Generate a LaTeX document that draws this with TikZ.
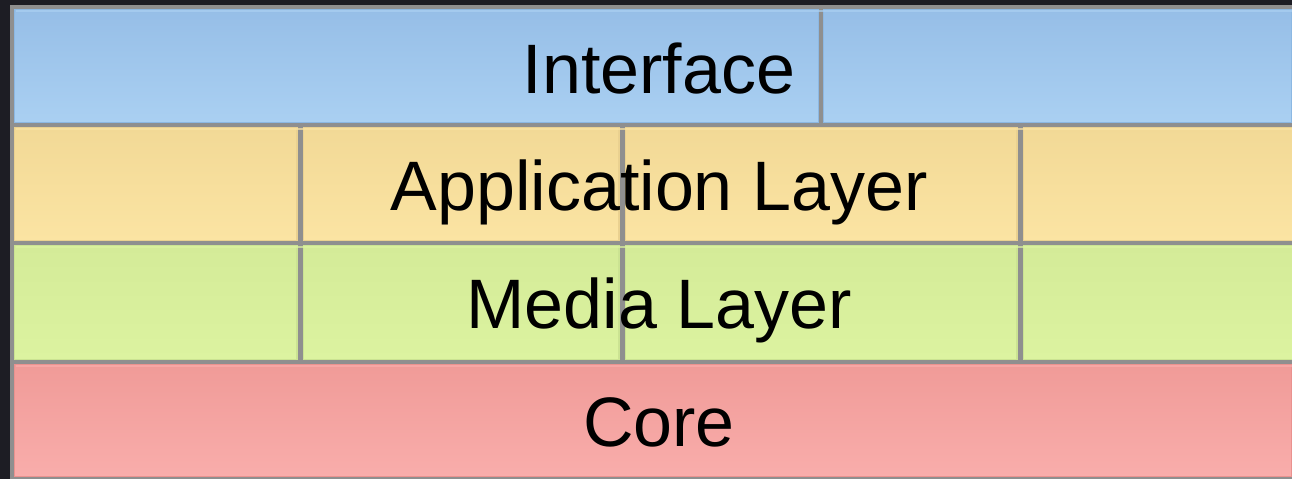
\documentclass[tikz,border=0pt]{standalone}
\usepackage{fontspec}
\setmainfont{Liberation Sans}
\definecolor{bgdark}{HTML}{1D1D24}
\definecolor{grid}{HTML}{8F8F8F}
\definecolor{blueT}{HTML}{96BEE7}
\definecolor{blueB}{HTML}{AAD0F2}
\definecolor{blueE}{HTML}{8CB8E3}
\definecolor{yelT}{HTML}{F2D996}
\definecolor{yelB}{HTML}{FBE4A3}
\definecolor{yelE}{HTML}{EAD190}
\definecolor{grnT}{HTML}{D4EB98}
\definecolor{grnB}{HTML}{DCF3A0}
\definecolor{grnE}{HTML}{CBE392}
\definecolor{pnkT}{HTML}{F09B98}
\definecolor{pnkB}{HTML}{F9ADAB}
\definecolor{pnkE}{HTML}{EA928F}
\tikzset{
  cell/.style n args={3}{top color=#1, bottom color=#2, draw=#3, line width=1.2pt},
  layerlabel/.style={anchor=base, inner sep=0pt, font=\fontsize{70}{80}\selectfont, text=black},
}
\begin{document}
\begin{tikzpicture}[x=1pt,y=-1pt]
  \useasboundingbox (0,0) rectangle (1292,479);
  % backdrop and the grey frame behind the cells
  \fill[bgdark] (0,0) rectangle (1292,479);
  \fill[grid] (10,5) rectangle (1292,479);

  % Interface row
  \shade[cell={blueT}{blueB}{blueE}] (14.6,9.6) rectangle (818.4,122.4);
  \shade[cell={blueT}{blueB}{blueE}] (823.6,9.6) rectangle (1292,122.4);
  % Application row
  \foreach \a/\b in {14/297.5, 302.5/619.5, 624.5/1017.5, 1022.5/1293}
    \shade[cell={yelT}{yelB}{yelE}] (\a+0.6,127.6) rectangle (\b-0.6,240.4);
  % Media row
  \foreach \a/\b in {14/297.5, 302.5/619.5, 624.5/1017.5, 1022.5/1293}
    \shade[cell={grnT}{grnB}{grnE}] (\a+0.6,245.6) rectangle (\b-0.6,359.4);
  % Core row
  \shade[cell={pnkT}{pnkB}{pnkE}] (14.6,364.6) rectangle (1292,476.4);

  % thin highlights along the top of each row
  \foreach \y/\c in {11/blueB, 129/yelB, 247/grnB, 366/pnkB}
    \draw[\c, line width=1.5pt, opacity=0.7] (16,\y) -- (1292,\y);

  % layer titles
  \node[layerlabel] (interface) at (659,93) {Interface};
  \node[layerlabel] (application) at (659,210) {Application Layer};
  \node[layerlabel] (media) at (659,328) {Media Layer};
  \node[layerlabel] (core) at (659,446) {Core};
\end{tikzpicture}
\end{document}
